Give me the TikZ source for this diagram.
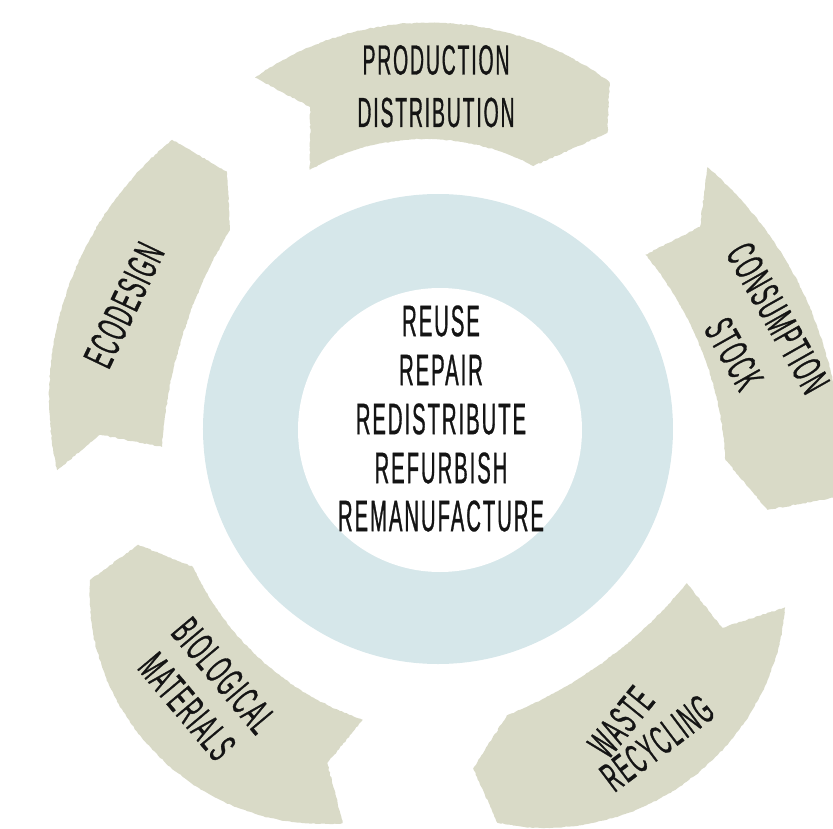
\documentclass[tikz,border=0pt]{standalone}
\usepackage{fontspec}
\setmainfont{Liberation Sans}[FakeStretch=0.46, FakeBold=0.7, LetterSpace=4.5]
\usetikzlibrary{decorations.pathmorphing}
\definecolor{segfill}{RGB}{217,218,199}
\definecolor{ringblue}{RGB}{214,231,234}
\definecolor{ink}{RGB}{20,20,20}
\begin{document}
\begin{tikzpicture}[x=1pt,y=1pt,
  seg/.style={fill=segfill, decorate, decoration={random steps,segment length=2.5pt,amplitude=0.6pt}},
  lbl/.style={font=\fontsize{42}{48}\selectfont, text=ink, inner sep=0pt},
  ctr/.style={font=\fontsize{44}{50}\selectfont, text=ink, inner sep=0pt}]
\pgfmathsetseed{7}
\useasboundingbox (-440,-398) rectangle (393,430);
\clip (-440,-398) rectangle (393,430);
% ring
\fill[ringblue] (-2,1) circle[radius=235pt];
\fill[white] (0,0) circle[radius=142pt];
% production
\fill[seg] (117.7:398) -- plot[domain=0:1,samples=50] ({117.7+(64-117.7)*\x}:{398+(387-398)*\x+15*4*\x*(1-\x)})
  -- (60.6:341)
  -- plot[domain=0:1,samples=50] ({70.5+(116.6-70.5)*\x}:{280+(291-280)*\x+6*4*\x*(1-\x)})
  -- (111.9:348) -- cycle;
% consumption
\fill[seg] (44.5:375) -- plot[domain=0:1,samples=50] ({44.5+(-9.5-44.5)*\x}:{375+(405-375)*\x})
  -- (-13.7:337)
  -- plot[domain=0:1,samples=50] ({-6+(40.5+6)*\x}:{287+(270-287)*\x-5*4*\x*(1-\x)})
  -- (38:330) -- cycle;
% waste
\fill[seg] (-27.2:388) -- plot[domain=0:1,samples=50] ({-27.2+(-81.7+27.2)*\x}:{388+(397-388)*\x+37*4*\x*(1-\x)})
  -- (-84.4:340)
  -- plot[domain=0:1,samples=50] ({-76.8+(-31.8+76.8)*\x}:{293+(290.5-293)*\x-8*4*\x*(1-\x)})
  -- (-35:345) -- cycle;
% biological
\fill[seg] (256.1:405) -- plot[domain=0:1,samples=50] ({256.1+(203.2-256.1)*\x}:{405+(381-405)*\x+38*4*\x*(1-\x)})
  -- (200.8:323)
  -- plot[domain=0:1,samples=50] ({209+(255.1-209)*\x}:{282.5+(300-282.5)*\x})
  -- (251.3:351.6) -- cycle;
% ecodesign
\fill[seg] (186:385) -- plot[domain=0:1,samples=50] ({186+(132.7-186)*\x}:{385+(395-385)*\x+8*4*\x*(1-\x)})
  -- (129.5:335)
  -- plot[domain=0:1,samples=50] ({136.4+(183.5-136.4)*\x}:{290+(278.5-290)*\x-10*4*\x*(1-\x)})
  -- (180.8:340) -- cycle;
% labels
\node[lbl] (prod) at (-4,370) {PRODUCTION};
\node[lbl] (dist) at (-4,317.5) {DISTRIBUTION};
\node[lbl,rotate=-60.5] (cons) at (338,112) {CONSUMPTION};
\node[lbl,rotate=-60.5] (stock) at (294,76) {STOCK};
\node[lbl,rotate=51] (waste) at (181,-292) {WASTE};
\node[lbl,rotate=37] (recy) at (217,-313) {RECYCLING};
\node[lbl,rotate=-50,align=center] (bio) at (-234.5,-261) {BIOLOGICAL\\MATERIALS};
\node[lbl,rotate=64.5] (eco) at (-316,125) {ECODESIGN};
% centre
\node[ctr] (reuse) at (1,109) {REUSE};
\node[ctr] (repair) at (1,60) {REPAIR};
\node[ctr] (redis) at (1,11) {REDISTRIBUTE};
\node[ctr] (refurb) at (1,-38) {REFURBISH};
\node[ctr] (reman) at (1,-86) {REMANUFACTURE};
\end{tikzpicture}
\end{document}
